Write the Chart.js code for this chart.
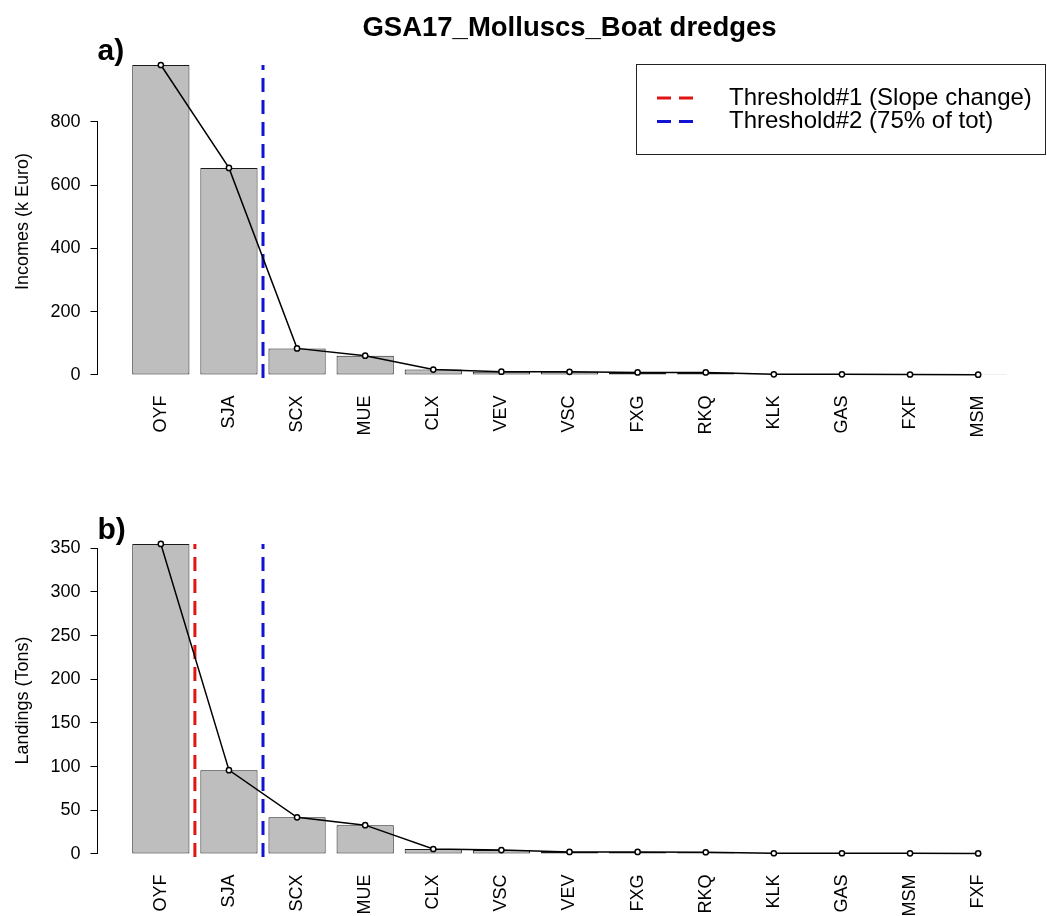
<!DOCTYPE html>
<html>
<head>
<meta charset="utf-8">
<title>GSA17_Molluscs_Boat dredges</title>
<script src="https://cdn.jsdelivr.net/npm/chart.js@4.4.1/dist/chart.umd.min.js"></script>
<style>
  html, body { margin:0; padding:0; background:#fff; }
  #wrap { position:relative; width:1047px; height:916px; }
  .panel { position:absolute; left:0; width:1047px; height:458px; }
</style>
</head>
<body>
<div id="wrap">
  <div class="panel" style="top:0"><canvas id="incChart" width="1047" height="458"></canvas></div>
  <div class="panel" style="top:458px"><canvas id="landChart" width="1047" height="458"></canvas></div>
</div>
<script>
// a) incomes by species
const incSpecies = ["OYF","SJA","SCX","MUE","CLX","VEV","VSC","FXG","RKQ","KLK","GAS","FXF","MSM"]
const incValues  = [979, 654, 84, 61, 17, 10.5, 10, 8, 8, 2, 2, 1.5, 1]
const incTicks   = [0, 200, 400, 600, 800]
const incThr1    = []      // slope change (none in this panel)
const incThr2    = [1.5]   // 75% of total, between SJA and SCX

// b) landings by species
const landSpecies = ["OYF","SJA","SCX","MUE","CLX","VSC","VEV","FXG","RKQ","KLK","GAS","MSM","FXF"]
const landValues  = [355, 96, 42, 33, 5.7, 4.5, 2.3, 2.3, 2, 0.8, 0.8, 0.7, 0.6]
const landTicks   = [0, 50, 100, 150, 200, 250, 300, 350]
const landThr1    = [0.5]
const landThr2    = [1.5]

const thrNames  = ["Threshold#1 (Slope change)", "Threshold#2 (75% of tot)"]
const thrColors = ["#e01414", "#1212d2"]

const FONT = "'Liberation Sans', Arial, Helvetica, sans-serif"
Chart.defaults.font.family = FONT
Chart.defaults.color = "#000"

const DASH = [14, 8]

// R-style left axis: line only between first and last tick
const rAxis = {
    id: 'rAxis',
    afterDraw(chart){
        const y = chart.scales.y
        const t = y.ticks
        const ctx = chart.ctx
        const x = Math.round(chart.chartArea.left) - 0.5
        ctx.save()
        ctx.strokeStyle = "#000"
        ctx.lineWidth = 1
        ctx.beginPath()
        ctx.moveTo(x, y.getPixelForValue(t[0].value))
        ctx.lineTo(x, y.getPixelForValue(t[t.length-1].value))
        ctx.stroke()
        ctx.restore()
    }
}

// "a)" / "b)" tag at top left of the plot
const panelTag = {
    id: 'panelTag',
    afterDraw(chart, args, opts){
        const ctx = chart.ctx
        ctx.save()
        ctx.font = "bold 30px " + FONT
        ctx.fillStyle = "#000"
        ctx.textAlign = "left"
        ctx.textBaseline = "middle"
        ctx.fillText(opts.text, chart.chartArea.left, chart.chartArea.top - 1)
        ctx.restore()
    }
}

// boxed legend with the two threshold lines
const thrLegend = {
    id: 'thrLegend',
    afterDraw(chart, args, opts){
        if(!opts.show) return
        const ctx = chart.ctx
        ctx.save()
        ctx.strokeStyle = "#222"
        ctx.lineWidth = 1
        ctx.strokeRect(636.5, 64.5, 409, 90)
        ctx.font = "24px " + FONT
        ctx.textBaseline = "middle"
        thrNames.forEach((name, i) => {
            const yy = 98 + i * 23.5
            ctx.strokeStyle = thrColors[i]
            ctx.lineWidth = 3
            ctx.setLineDash(DASH)
            ctx.beginPath()
            ctx.moveTo(657, yy)
            ctx.lineTo(695, yy)
            ctx.stroke()
            ctx.setLineDash([])
            ctx.fillStyle = "#000"
            ctx.fillText(name, 729, yy)
        })
        ctx.restore()
    }
}

function makePanel(id, p){
    const n = p.species.length
    const top = Math.max(...p.values)
    // barplot ylim: range(-0.01*max, max) widened by 4%
    const lo = -0.01 * top
    const pad = 0.04 * (top - lo)
    const yMin = lo - pad, yMax = top + pad

    const pts = p.values.map((v, i) => ({x: i, y: v}))
    const thrSets = []
    ;[p.thr1, p.thr2].forEach((list, k) => {
        list.forEach(pos => {
            thrSets.push({
                type: 'line',
                label: thrNames[k],
                data: [{x: pos, y: lo}, {x: pos, y: top}],
                borderColor: thrColors[k],
                borderWidth: 3,
                borderDash: DASH,
                pointRadius: 0,
                order: 2
            })
        })
    })

    return new Chart(document.getElementById(id), {
        type: 'bar',
        data: {
            datasets: [
                {
                    type: 'line',
                    label: 'trend',
                    data: pts,
                    borderColor: "#000",
                    borderWidth: 1.5,
                    pointRadius: 2.6,
                    pointBorderWidth: 1.5,
                    pointBackgroundColor: "#fff",
                    pointBorderColor: "#000",
                    order: 1
                },
                ...thrSets,
                {
                    type: 'bar',
                    label: p.yTitle,
                    data: pts,
                    backgroundColor: "#bebebe",
                    borderColor: "#1a1a1a",
                    borderWidth: 1,
                    borderSkipped: false,
                    barPercentage: 0.84,
                    categoryPercentage: 1,
                    order: 3
                }
            ]
        },
        options: {
            responsive: false,
            animation: false,
            layout: { padding: { top: p.padTop, left: 0, right: 0, bottom: 0 } },
            plugins: {
                legend: { display: false },
                tooltip: { enabled: false },
                title: p.title ? {
                    display: true,
                    fullSize: false,
                    text: p.title,
                    font: { size: 27.5, weight: 'bold' },
                    color: "#000",
                    padding: { top: 12, bottom: 52.5 - 12 - 27.5 * 1.2 }
                } : { display: false },
                panelTag: { text: p.tag },
                thrLegend: { show: !!p.legend }
            },
            scales: {
                x: {
                    type: 'linear',
                    offset: false,
                    min: -0.93,
                    max: n - 0.07,
                    afterBuildTicks: s => { s.ticks = p.species.map((_, i) => ({value: i})) },
                    afterFit: s => { s.height = p.xHeight },
                    ticks: {
                        callback: v => p.species[v],
                        autoSkip: false,
                        minRotation: 90,
                        maxRotation: 90,
                        padding: 5,
                        font: { size: 18 },
                        color: "#000"
                    },
                    grid: { display: false, drawTicks: false },
                    border: { display: false }
                },
                y: {
                    min: yMin,
                    max: yMax,
                    afterBuildTicks: s => { s.ticks = p.ticks.map(v => ({value: v})) },
                    afterFit: s => { s.width = 97.5 },
                    ticks: { padding: 10, font: { size: 18 }, color: "#000" },
                    grid: { drawOnChartArea: false, drawTicks: true, tickLength: 7, color: "#000", lineWidth: 1 },
                    border: { display: false },
                    title: {
                        display: true,
                        text: p.yTitle,
                        font: { size: 18 },
                        color: "#000",
                        padding: { top: 12, bottom: 0 }
                    }
                }
            }
        },
        plugins: [rAxis, panelTag, thrLegend]
    })
}

makePanel("incChart", {
    species: incSpecies, values: incValues, ticks: incTicks,
    thr1: incThr1, thr2: incThr2,
    yTitle: "Incomes (k Euro)", tag: "a)",
    title: "GSA17_Molluscs_Boat dredges", legend: true,
    padTop: 0, xHeight: 458 - 390.6
})

makePanel("landChart", {
    species: landSpecies, values: landValues, ticks: landTicks,
    thr1: landThr1, thr2: landThr2,
    yTitle: "Landings (Tons)", tag: "b)",
    padTop: 73.4, xHeight: 458 - 411.6
})
</script>
</body>
</html>
